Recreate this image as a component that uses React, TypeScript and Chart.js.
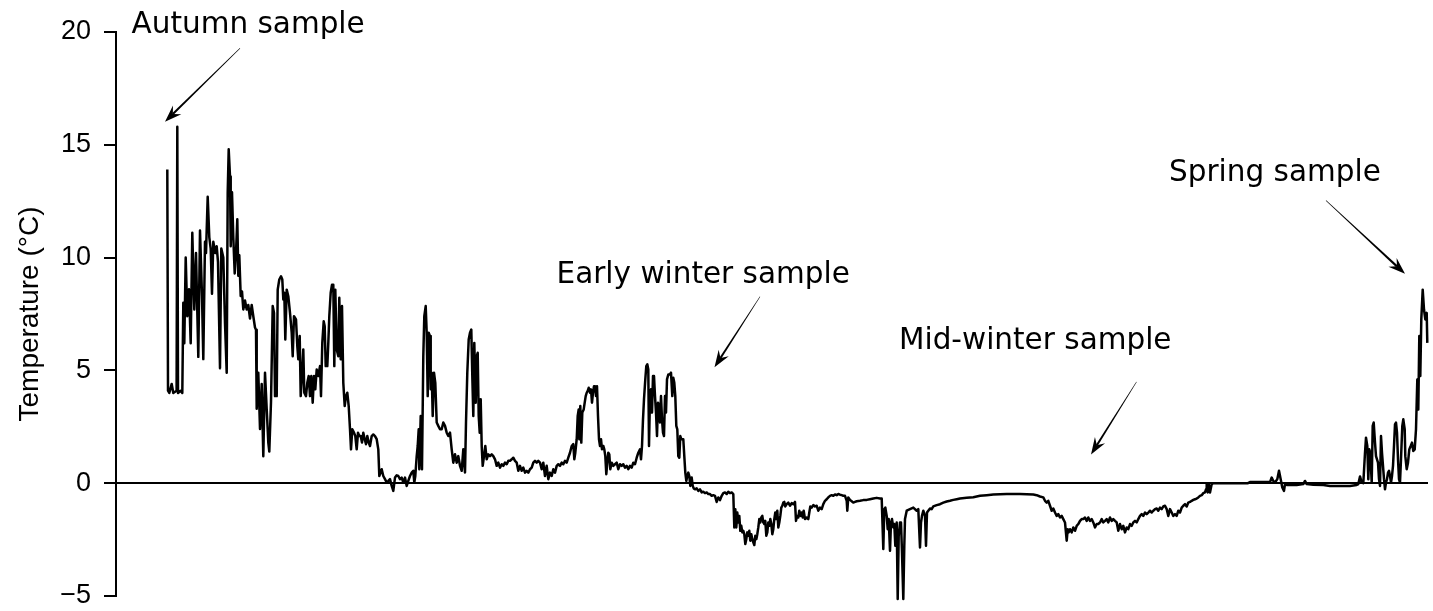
import { useEffect, useRef } from "react";
import { Chart, registerables } from "chart.js";

Chart.register(...registerables);

// Logged water temperature, [day of record, °C], split by period.
const autumnRecord: [number, number][] = [
  [10.26, 13.9], [10.4, 4.1], [10.66, 4.0], [11.14, 4.4], [11.46, 4.0], [12.12, 4.1], [12.26, 15.8], [12.4, 4.0],
  [12.94, 4.1], [13.26, 4.0], [13.46, 8.0], [13.66, 6.2], [13.94, 10.0], [14.26, 7.4], [14.6, 8.6], [14.94, 6.2],
  [15.26, 11.1], [15.66, 7.7], [16.0, 10.2], [16.46, 5.6], [16.8, 11.2], [17.2, 8.3], [17.46, 5.5], [17.8, 10.7],
  [18.0, 10.2], [18.34, 12.7], [18.66, 10.9], [18.94, 10.4], [19.2, 8.4], [19.46, 10.7], [19.86, 10.2], [20.14, 10.5],
  [20.4, 9.8], [20.8, 5.1], [21.06, 10.4], [21.46, 10.0], [21.8, 7.1], [22.14, 4.9], [22.34, 12.9], [22.54, 14.8],
  [22.8, 13.6], [22.94, 10.5], [23.2, 12.9], [23.46, 10.9], [23.74, 9.3], [24.0, 10.2], [24.26, 11.7], [24.46, 9.2],
  [24.66, 10.1], [24.94, 8.3], [25.2, 8.5], [25.46, 7.7], [25.8, 8.1], [26.14, 7.7], [26.46, 7.9], [26.8, 7.3],
  [27.14, 7.9], [27.46, 7.4], [27.8, 6.9], [28.0, 6.8], [28.14, 3.3], [28.46, 4.9], [28.8, 2.4], [29.14, 4.4],
  [29.46, 1.2], [29.8, 4.9], [30.14, 3.3], [30.46, 1.8], [30.66, 1.4], [31.0, 3.6], [31.34, 7.85], [31.6, 7.55],
  [31.8, 3.86], [32.14, 3.86], [32.34, 8.58], [32.66, 9.03], [33.0, 9.17], [33.26, 9.03], [33.46, 8.14], [33.66, 8.44],
  [33.86, 6.37], [34.14, 8.58], [34.46, 8.29], [34.8, 7.55], [35.14, 6.67], [35.34, 5.63], [35.6, 7.4], [36.0, 7.26],
  [36.26, 6.08], [36.46, 5.49], [36.74, 6.52], [36.94, 3.86], [37.2, 4.75], [37.46, 5.93], [37.66, 4.01], [38.0, 3.86],
  [38.26, 4.45], [38.54, 4.75], [38.8, 3.86], [39.06, 4.75], [39.34, 3.57], [39.6, 4.75], [39.86, 4.16], [40.14, 5.04],
  [40.46, 4.75], [40.8, 5.19], [41.0, 3.86], [41.26, 6.22], [41.54, 7.18], [41.74, 6.96], [41.94, 5.19], [42.26, 5.19],
  [42.46, 6.22], [42.66, 7.4], [42.94, 8.44], [43.2, 8.8], [43.46, 8.8], [43.66, 5.19], [43.86, 8.58], [44.14, 5.93],
  [44.46, 5.63], [44.66, 8.22], [44.94, 5.49], [45.2, 7.85], [45.46, 4.45], [45.74, 3.42], [46.0, 3.86], [46.26, 4.01],
  [46.54, 3.42], [46.8, 2.39], [47.0, 1.5], [47.26, 2.39], [47.6, 2.24], [47.86, 2.09], [48.14, 1.5], [48.4, 2.24],
  [48.66, 2.09], [48.94, 2.09], [49.2, 1.8], [49.46, 2.24], [49.74, 1.95], [50.0, 1.73], [50.26, 2.09], [50.54, 1.8],
  [50.8, 1.65], [51.14, 2.09], [51.46, 2.16], [51.8, 2.09], [52.14, 1.95], [52.46, 1.5], [52.66, 0.32],
];

const lateAutumnRecord: [number, number][] = [
  [53.14, 0.62], [53.46, 0.32], [53.8, 0.18], [54.14, 0.03], [54.46, 0.1], [54.8, 0.18], [55.14, -0.12], [55.46, -0.34],
  [55.8, 0.25], [56.14, 0.35], [56.46, 0.32], [56.8, 0.18], [57.14, 0.25], [57.46, 0.03], [57.8, 0.25], [58.14, -0.12],
  [58.46, 0.1], [58.8, 0.32], [59.14, 0.47], [59.46, 0.55], [59.66, 0.03], [59.86, 0.32], [60.14, 1.2], [60.34, 1.65],
  [60.54, 2.39], [60.66, 0.62], [60.94, 2.98], [61.2, 0.62], [61.46, 5.63], [61.66, 7.4], [61.94, 7.85], [62.14, 6.67],
  [62.34, 3.86], [62.54, 6.67], [62.8, 6.52], [62.94, 4.16], [63.14, 4.9], [63.34, 2.98], [63.6, 4.9], [63.86, 4.45],
  [64.14, 2.69], [64.46, 2.54], [64.8, 2.39], [65.14, 2.39], [65.46, 2.69], [65.8, 2.54], [66.14, 2.24], [66.46, 2.09],
  [66.8, 2.24], [67.14, 1.5], [67.46, 0.91], [67.8, 1.28], [68.14, 0.91], [68.46, 1.2], [68.8, 0.77], [69.14, 0.55],
  [69.46, 1.5], [69.8, 0.47], [70.0, 2.69], [70.26, 4.9], [70.54, 6.37], [70.8, 6.67], [71.06, 6.81], [71.26, 4.75],
  [71.46, 2.98], [71.66, 6.22], [71.94, 3.57], [72.14, 5.63], [72.34, 5.78], [72.54, 2.98], [72.74, 2.24], [72.94, 3.72],
  [73.14, 1.65], [73.34, 0.77], [73.6, 1.2], [73.86, 1.65], [74.14, 1.06], [74.46, 1.28], [74.8, 1.2], [75.14, 1.28],
  [75.46, 1.2], [75.8, 1.06], [76.14, 0.77], [76.46, 0.91], [76.8, 0.69], [77.14, 0.84], [77.46, 0.77], [77.8, 0.91],
  [78.14, 0.84], [78.46, 0.99], [78.8, 0.99], [79.14, 1.06], [79.46, 1.13], [79.8, 0.99], [80.14, 0.91], [80.46, 0.55],
  [80.8, 0.77], [81.14, 0.55], [81.46, 0.69], [81.8, 0.47], [82.14, 0.55], [82.46, 0.47], [82.8, 0.62], [83.14, 0.69],
  [83.46, 0.91], [83.8, 0.99], [84.14, 0.91], [84.46, 0.99], [84.8, 0.91], [85.14, 0.62], [85.46, 0.91], [85.8, 0.32],
  [86.14, 0.77], [86.46, 0.18], [86.8, 0.47], [87.14, 0.32], [87.46, 0.62], [87.8, 0.47], [88.14, 0.77], [88.46, 0.84],
  [88.8, 0.77], [89.14, 0.91], [89.46, 0.84], [89.8, 0.99], [90.14, 0.91], [90.46, 1.13], [90.8, 1.35], [91.14, 1.65],
  [91.46, 1.73], [91.66, 1.06], [91.86, 1.35], [92.14, 1.95], [92.34, 2.98], [92.54, 3.27], [92.66, 1.95], [92.86, 3.42],
  [93.06, 1.8], [93.26, 3.13], [93.54, 3.27], [93.74, 3.57], [93.94, 3.86], [94.14, 4.01], [94.34, 4.09], [94.54, 4.23],
  [94.8, 4.01], [95.0, 4.16], [95.2, 3.57], [95.4, 4.01], [95.6, 4.3], [95.8, 4.3], [96.0, 3.86], [96.2, 4.3],
  [96.4, 2.98], [96.6, 1.95], [96.8, 1.65], [97.0, 1.95], [97.2, 1.5], [97.46, 1.65], [97.66, 1.5], [97.86, 1.2],
  [98.06, 0.4], [98.26, 0.91], [98.46, 1.35], [98.66, 1.28], [98.86, 0.62], [99.14, 0.91], [99.46, 0.77], [99.8, 0.84],
  [100.14, 0.91], [100.46, 0.62], [100.8, 0.84], [101.14, 0.77], [101.46, 0.84], [101.8, 0.69], [102.14, 0.77], [102.46, 0.62],
  [102.8, 0.77], [103.14, 0.69], [103.46, 0.91], [103.8, 0.84], [104.14, 1.13], [104.46, 1.35], [104.8, 1.5], [105.0, 1.06],
  [105.2, 1.65], [105.4, 2.83], [105.6, 3.72], [105.86, 4.6], [106.06, 5.19], [106.26, 5.27], [106.46, 5.04], [106.6, 1.65],
  [106.8, 3.86], [107.0, 4.16], [107.2, 3.13], [107.4, 4.75], [107.6, 4.75], [107.8, 3.86], [108.0, 3.13], [108.2, 2.09],
  [108.4, 3.57], [108.6, 3.42], [108.8, 2.69], [109.0, 3.86], [109.2, 2.83], [109.4, 2.24], [109.6, 2.09], [109.8, 3.86],
  [110.0, 3.13], [110.2, 4.6], [110.46, 4.82], [110.74, 4.82], [111.0, 4.9], [111.26, 3.86], [111.46, 4.67], [111.66, 4.45],
  [111.86, 3.86], [112.06, 2.54], [112.26, 2.39], [112.46, 1.2], [112.66, 1.13], [112.86, 2.09], [113.06, 1.95], [113.26, 1.95],
  [113.46, 1.95], [113.66, 1.2], [113.86, 0.47], [114.06, 0.1], [114.26, 0.32], [114.46, 0.47], [114.66, 0.32], [114.86, -0.12],
  [115.14, 0.25], [115.34, -0.12], [115.54, -0.23], [115.8, -0.27], [116.14, -0.23], [116.46, -0.34], [116.8, -0.27], [117.14, -0.41],
  [117.46, -0.38], [117.8, -0.44], [118.14, -0.41], [118.46, -0.48], [118.8, -0.48], [119.14, -0.56], [119.46, -0.53], [119.8, -0.56],
  [120.14, -0.83],
];

const winterRecord: [number, number][] = [
  [120.46, -0.63], [120.8, -0.75], [121.14, -0.56], [121.46, -0.44], [121.8, -0.41], [122.14, -0.48], [122.46, -0.38], [122.8, -0.44],
  [123.14, -0.41], [123.46, -0.48], [123.66, -1.96], [123.86, -1.15], [124.06, -1.96], [124.26, -1.3], [124.46, -1.74], [124.66, -1.45],
  [124.86, -2.11], [125.06, -1.89], [125.26, -2.18], [125.46, -2.11], [125.66, -2.26], [125.86, -2.7], [126.06, -2.48], [126.26, -2.18],
  [126.46, -2.33], [126.66, -2.11], [126.86, -2.55], [127.06, -2.26], [127.26, -2.48], [127.46, -2.62], [127.66, -2.74], [127.86, -2.33],
  [128.06, -2.48], [128.26, -2.26], [128.46, -1.96], [128.66, -1.59], [128.86, -1.74], [129.06, -1.52], [129.26, -1.45], [129.46, -1.74],
  [129.66, -1.81], [129.86, -1.67], [130.06, -2.33], [130.26, -2.18], [130.46, -1.74], [130.66, -1.89], [130.86, -1.59], [131.06, -1.81],
  [131.26, -2.26], [131.46, -2.04], [131.66, -1.59], [131.86, -1.3], [132.06, -1.59], [132.26, -1.22], [132.46, -1.96], [132.66, -1.74],
  [132.86, -1.45], [133.06, -1.08], [133.26, -1.0], [133.46, -0.86], [133.66, -0.83], [133.86, -1.03], [134.14, -0.93], [134.46, -0.86],
  [134.8, -1.0], [135.14, -0.88], [135.46, -0.93], [135.8, -0.83], [136.0, -1.67], [136.2, -1.45], [136.46, -1.52], [136.66, -1.22],
  [136.94, -1.45], [137.14, -1.3], [137.34, -1.52], [137.54, -1.22], [137.8, -1.59], [138.14, -1.52], [138.46, -1.59], [138.66, -1.3],
  [138.86, -1.03], [139.14, -1.08], [139.46, -0.97], [139.8, -1.03], [140.14, -1.0], [140.46, -1.22], [140.8, -1.08], [141.14, -1.15],
  [141.46, -0.93], [141.8, -0.78], [142.14, -0.71], [142.46, -0.63], [142.8, -0.56], [143.14, -0.53], [143.46, -0.56], [143.8, -0.5],
  [144.14, -0.53], [144.46, -0.48], [144.8, -0.51], [145.14, -0.53], [145.46, -0.56], [145.8, -0.56], [146.14, -0.78], [146.26, -1.22],
  [146.46, -0.63], [146.8, -0.74], [147.14, -0.8], [147.46, -0.86], [147.8, -0.83], [148.14, -0.8], [148.8, -0.78], [149.46, -0.75],
  [150.14, -0.74], [150.8, -0.71], [151.46, -0.68], [152.14, -0.65], [152.8, -0.68], [153.14, -0.68], [153.46, -2.92], [153.66, -1.15],
  [153.86, -1.08], [154.14, -1.45], [154.34, -2.04], [154.54, -1.59], [154.8, -2.99], [155.0, -1.74], [155.2, -1.59], [155.46, -1.96],
  [155.66, -1.81], [155.86, -2.77], [156.14, -1.74], [156.34, -5.13], [156.54, -2.33], [156.8, -1.74], [157.0, -1.74], [157.2, -3.07],
  [157.46, -5.13], [157.66, -2.77], [157.8, -1.59], [158.14, -1.22], [158.8, -1.15], [159.46, -1.08], [160.14, -1.22], [160.46, -1.15],
  [160.8, -2.85], [161.0, -1.74], [161.2, -1.45], [161.46, -1.22], [161.8, -1.45], [162.0, -2.77], [162.2, -1.3], [162.46, -1.22],
  [162.8, -1.12], [163.14, -1.15], [163.46, -1.03], [164.14, -0.97], [164.8, -0.93], [165.46, -0.86], [166.14, -0.81], [166.8, -0.78],
  [167.46, -0.74], [168.14, -0.71], [168.8, -0.68], [170.14, -0.65], [171.46, -0.62], [172.8, -0.56], [174.14, -0.53], [175.46, -0.5],
  [178.14, -0.48], [180.8, -0.48], [183.46, -0.5], [184.14, -0.53], [184.8, -0.59], [185.46, -0.63], [185.8, -0.78], [186.14, -0.86],
  [186.46, -0.78], [186.8, -1.0], [187.14, -1.22], [187.46, -1.12], [187.8, -1.3], [188.14, -1.45], [188.46, -1.37], [188.8, -1.52],
  [189.14, -1.45], [189.46, -1.59], [189.8, -1.74], [190.14, -2.55], [190.34, -2.04], [190.54, -2.18], [190.8, -2.04], [191.14, -2.18],
  [191.46, -1.96], [191.8, -2.11], [192.14, -1.89], [192.46, -1.81], [192.8, -1.67], [193.14, -1.59], [193.46, -1.59], [193.8, -1.52],
  [194.14, -1.67], [194.46, -1.52], [194.8, -1.67], [195.14, -1.59], [195.46, -1.74], [195.8, -1.96], [196.14, -1.81], [196.46, -1.81],
  [196.8, -1.74], [197.14, -1.59], [197.46, -1.74], [197.8, -1.67], [198.14, -1.59], [198.46, -1.74], [198.8, -1.52], [199.14, -1.67],
  [199.46, -1.59], [199.8, -1.67], [200.14, -1.74], [200.46, -2.11], [200.8, -1.81], [201.14, -2.04], [201.46, -1.89], [201.8, -2.18],
  [202.14, -1.96], [202.46, -2.04], [202.8, -1.81], [203.14, -1.89], [203.46, -1.74], [203.8, -1.67], [204.14, -1.74], [204.46, -1.59],
  [204.8, -1.45], [205.14, -1.37], [205.46, -1.45], [205.8, -1.3], [206.14, -1.37], [206.46, -1.3], [206.8, -1.22], [207.14, -1.3],
  [207.46, -1.22], [207.8, -1.15], [208.14, -1.12], [208.46, -1.22], [208.8, -1.08], [209.14, -1.15], [209.46, -1.03], [209.8, -1.0],
  [210.14, -1.15], [210.46, -1.45], [210.8, -1.15], [211.14, -1.3], [211.46, -1.45], [211.8, -1.37], [212.14, -1.45], [212.46, -1.22],
  [212.8, -1.3], [213.14, -1.08], [213.46, -1.0], [213.8, -0.93], [214.14, -1.03], [214.46, -0.86], [214.8, -0.83], [215.14, -0.78],
  [215.46, -0.74], [215.8, -0.71], [216.14, -0.68], [216.46, -0.63], [216.8, -0.56], [217.14, -0.53], [217.46, -0.44], [217.8, -0.41],
  [218.0, -0.27], [218.14, -0.04], [218.34, -0.41], [218.54, -0.04], [218.8, -0.41], [219.14, -0.04], [219.46, 0.0],
];

const springRecord: [number, number][] = [
  [222.8, 0.0], [226.4, 0.0], [226.8, 0.05], [230.8, 0.05], [231.14, 0.25], [231.46, 0.1], [231.8, 0.03], [232.26, 0.18],
  [232.6, 0.55], [232.94, 0.18], [233.26, -0.19], [233.6, -0.34], [233.8, -0.04], [234.14, -0.08], [236.14, -0.08], [237.46, -0.04],
  [237.8, 0.1], [238.14, -0.04], [239.46, -0.07], [241.46, -0.08], [242.8, -0.12], [246.8, -0.12], [248.14, -0.08], [248.46, -0.04],
  [248.8, 0.3], [249.14, 0.03], [249.46, 0.0], [249.8, 1.35], [250.0, 2.02], [250.26, 1.65], [250.46, 0.18], [250.66, 1.5],
  [250.86, 1.35], [251.14, 0.03], [251.34, 2.54], [251.54, 2.69], [251.8, 1.8], [252.0, 1.2], [252.2, 1.06], [252.4, 0.91],
  [252.6, 0.18], [252.8, -0.12], [253.0, 2.09], [253.2, 1.35], [253.4, 0.77], [253.6, 0.18], [253.8, -0.27], [254.0, 0.03],
  [254.2, 0.18], [254.4, 0.47], [254.6, 0.55], [254.8, 0.32], [255.0, 0.03], [255.2, 0.32], [255.4, 0.77], [255.6, 1.65],
  [255.8, 2.61], [256.0, 2.69], [256.2, 2.24], [256.4, 1.06], [256.6, 0.18], [256.8, 0.03], [257.0, 1.06], [257.26, 2.54],
  [257.46, 2.83], [257.74, 2.39], [257.86, 1.2], [258.14, 0.62], [258.4, 0.91], [258.66, 1.5], [258.94, 1.65], [259.2, 1.8],
  [259.46, 1.43], [259.74, 1.5], [260.0, 2.39], [260.26, 4.6], [260.46, 3.27], [260.66, 6.52], [260.86, 4.75], [261.06, 7.26],
  [261.34, 8.58], [261.6, 7.7], [261.86, 7.26], [262.14, 7.55], [262.26, 6.22],
];

const dayMin = 0;
const dayMax = 262.4;
const tempTicks = [-5, 0, 5, 10, 15, 20];

// Callouts: label anchor and arrow ends, in (day, °C).
const noteLabels = ["Autumn sample", "Early winter sample", "Mid-winter sample", "Spring sample"];
const noteDay = [3.1, 88.1, 156.6, 210.6];
const noteTemp = [19.96, 8.86, 5.93, 13.38];
const arrowFromDay = [24.8, 128.8, 204.1, 242.0];
const arrowFromTemp = [19.28, 8.27, 4.49, 12.53];
const arrowToDay = [9.8, 119.7, 195.0, 257.8];
const arrowToTemp = [16.02, 5.14, 1.27, 9.28];

const AXIS_FONT = "'Liberation Sans', Arial, Helvetica, sans-serif";
const NOTE_FONT = "29.5px 'DejaVu Sans', Verdana, sans-serif";

function drawArrow(ctx: CanvasRenderingContext2D, x0: number, y0: number, x1: number, y1: number) {
  const dx = x1 - x0;
  const dy = y1 - y0;
  const len = Math.hypot(dx, dy);
  const ux = dx / len;
  const uy = dy / len;
  const nx = -uy;
  const ny = ux;
  const headLen = 17;
  const headHalf = 6;
  const notch = 11;
  const sx = x1 - ux * notch;
  const sy = y1 - uy * notch;
  const w0 = 0.25;
  const w1 = 1.1;
  // tapered shaft
  ctx.beginPath();
  ctx.moveTo(x0 + nx * w0, y0 + ny * w0);
  ctx.lineTo(sx + nx * w1, sy + ny * w1);
  ctx.lineTo(sx - nx * w1, sy - ny * w1);
  ctx.lineTo(x0 - nx * w0, y0 - ny * w0);
  ctx.closePath();
  ctx.fill();
  // notched head
  const hx = x1 - ux * headLen;
  const hy = y1 - uy * headLen;
  ctx.beginPath();
  ctx.moveTo(x1, y1);
  ctx.lineTo(hx + nx * headHalf, hy + ny * headHalf);
  ctx.lineTo(sx, sy);
  ctx.lineTo(hx - nx * headHalf, hy - ny * headHalf);
  ctx.closePath();
  ctx.fill();
}

const calloutPlugin = {
  id: "sampleCallouts",
  afterDatasetsDraw(chart: any) {
    const { ctx } = chart;
    const xs = chart.scales.x;
    const ys = chart.scales.y;
    ctx.save();
    ctx.fillStyle = "#000";
    ctx.font = NOTE_FONT;
    ctx.textAlign = "left";
    ctx.textBaseline = "alphabetic";
    noteLabels.forEach((label, i) => {
      ctx.fillText(label, xs.getPixelForValue(noteDay[i]), ys.getPixelForValue(noteTemp[i]));
      drawArrow(
        ctx,
        xs.getPixelForValue(arrowFromDay[i]),
        ys.getPixelForValue(arrowFromTemp[i]),
        xs.getPixelForValue(arrowToDay[i]),
        ys.getPixelForValue(arrowToTemp[i])
      );
    });
    ctx.restore();
  },
};

export default function App() {
  const canvasRef = useRef<HTMLCanvasElement | null>(null);

  useEffect(() => {
    if (!canvasRef.current) return;
    const points = [...autumnRecord, ...lateAutumnRecord, ...winterRecord, ...springRecord].map(([d, t]) => ({ x: d, y: t }));

    const chart = new Chart(canvasRef.current, {
      type: "line",
      data: {
        datasets: [
          {
            data: points,
            borderColor: "#000",
            borderWidth: 2.5,
            pointRadius: 0,
            tension: 0,
            fill: false,
            borderJoinStyle: "round",
            clip: false as any,
          },
        ],
      },
      options: {
        responsive: false,
        animation: false,
        parsing: false,
        layout: { padding: { top: 32, bottom: 15, left: 0, right: 5 } },
        plugins: { legend: { display: false }, tooltip: { enabled: false } },
        scales: {
          x: { type: "linear", min: dayMin, max: dayMax, display: false },
          y: {
            type: "linear",
            min: tempTicks[0],
            max: tempTicks[tempTicks.length - 1],
            afterFit: (scale: any) => {
              scale.width = 116;
              scale.paddingTop = 0;
              scale.paddingBottom = 0;
            },
            afterBuildTicks: (scale: any) => {
              scale.ticks = tempTicks.map((v) => ({ value: v }));
            },
            ticks: {
              color: "#000",
              padding: 13,
              font: { family: AXIS_FONT, size: 27 },
              callback: (v: any) => (Number(v) < 0 ? "\u2212" + Math.abs(Number(v)) : String(v)),
            },
            grid: {
              color: (c: any) => (c.tick && c.tick.value === 0 ? "#000" : "rgba(0,0,0,0)"),
              lineWidth: 2,
              tickColor: "#000",
              tickLength: 12,
              drawOnChartArea: true,
            },
            border: { display: true, color: "#000", width: 2 },
            title: {
              display: true,
              text: "Temperature (°C)",
              color: "#000",
              font: { family: AXIS_FONT, size: 28 },
              padding: { top: 13, bottom: 0 },
            },
          },
        },
      },
      plugins: [calloutPlugin],
    });

    return () => chart.destroy();
  }, []);

  return (
    <div style={{ position: "fixed", left: 0, top: 0, width: 1433, height: 611, background: "#fff" }}>
      <canvas ref={canvasRef} width={1433} height={611} style={{ display: "block" }} />
    </div>
  );
}
